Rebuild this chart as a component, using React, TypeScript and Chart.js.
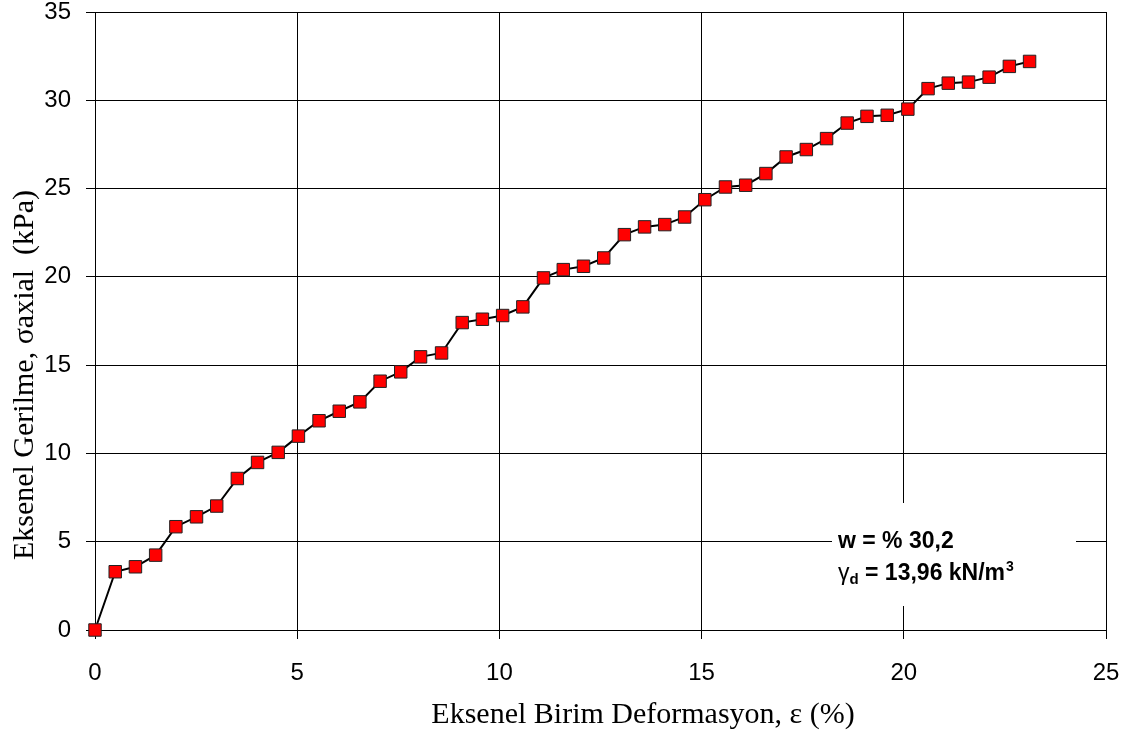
import React, { useEffect, useRef } from "react";
import { Chart, registerables } from "chart.js";

Chart.register(...registerables);

// Axial strain (%) and axial stress (kPa) of the unconfined compression test
const strain = [
  0, 0.5, 1.0, 1.5, 2.0, 2.51, 3.01, 3.52, 4.02, 4.53, 5.03, 5.54, 6.04, 6.55, 7.05, 7.56,
  8.05, 8.57, 9.08, 9.58, 10.08, 10.58, 11.09, 11.58, 12.08, 12.58, 13.09, 13.59, 14.09,
  14.58, 15.08, 15.59, 16.09, 16.59, 17.09, 17.59, 18.09, 18.6, 19.09, 19.59, 20.1, 20.6,
  21.1, 21.6, 22.11, 22.61, 23.11,
];
const stress = [
  0, 3.3, 3.58, 4.24, 5.85, 6.41, 7.02, 8.58, 9.49, 10.06, 10.98, 11.85, 12.39, 12.92,
  14.09, 14.62, 15.47, 15.69, 17.41, 17.6, 17.81, 18.3, 19.94, 20.41, 20.6, 21.07, 22.39,
  22.83, 22.96, 23.39, 24.37, 25.09, 25.19, 25.85, 26.79, 27.21, 27.83, 28.71, 29.09,
  29.15, 29.5, 30.66, 30.97, 31.03, 31.31, 31.92, 32.2,
];

const xTitle = "Eksenel Birim Deformasyon, \u03b5 (%)";
const yTitle = "Eksenel Gerilme, \u03c3axial  (kPa)";
const noteWater = "w = % 30,2";
const noteDensity = " = 13,96 kN/m";

const SANS = "'Liberation Sans', Arial, sans-serif";
const SERIF = "'Liberation Serif', 'Times New Roman', serif";

const decorations = {
  id: "decorations",
  beforeDatasetsDraw(chart: any) {
    const { ctx, chartArea } = chart;
    // white note box over the grid
    ctx.save();
    ctx.fillStyle = "#ffffff";
    ctx.fillRect(chartArea.left + 737, chartArea.top + 491, 244, 103);
    ctx.restore();
  },
  afterDraw(chart: any) {
    const { ctx, chartArea } = chart;
    ctx.save();
    ctx.fillStyle = "#000";
    ctx.textBaseline = "alphabetic";

    // axis titles
    ctx.font = `30px ${SERIF}`;
    ctx.textAlign = "center";
    ctx.fillText(xTitle, 643, 723);

    ctx.save();
    ctx.translate(33, 375);
    ctx.rotate(-Math.PI / 2);
    ctx.fillText(yTitle, 0, 0);
    ctx.restore();

    // test parameters note
    const x0 = chartArea.left + 743;
    const y1 = chartArea.top + 536;
    const y2 = y1 + 32;
    ctx.textAlign = "left";
    ctx.font = `bold 23px ${SANS}`;
    ctx.fillText(noteWater, x0, y1);

    ctx.font = `23px ${SANS}`;
    ctx.fillText("\u03b3", x0, y2);
    let x = x0 + ctx.measureText("\u03b3").width;
    ctx.font = `bold 15px ${SANS}`;
    ctx.fillText("d", x, y2 + 4);
    x += ctx.measureText("d").width;
    ctx.font = `bold 23px ${SANS}`;
    ctx.fillText(noteDensity, x, y2);
    x += ctx.measureText(noteDensity).width + 1;
    ctx.font = `bold 14px ${SANS}`;
    ctx.fillText("3", x, y2 - 9);
    ctx.restore();
  },
};

export default function App() {
  const ref = useRef<HTMLCanvasElement | null>(null);

  useEffect(() => {
    if (!ref.current) return;
    const chart = new Chart(ref.current, {
      type: "scatter",
      data: {
        datasets: [
          {
            data: strain.map((s, i) => ({ x: s, y: stress[i] })),
            showLine: true,
            clip: false,
            borderColor: "#000",
            borderWidth: 2,
            pointStyle: "rect",
            pointRadius: 8.8,
            pointBackgroundColor: "#ff0000",
            pointBorderColor: "#222",
            pointBorderWidth: 1,
          },
        ],
      },
      options: {
        animation: false,
        responsive: false,
        events: [],
        layout: { padding: { top: 12, right: 24, left: 0, bottom: 0 } },
        plugins: { legend: { display: false }, tooltip: { enabled: false } },
        scales: {
          x: {
            type: "linear",
            min: 0,
            max: 25,
            afterFit(scale: any) {
              scale.height = 104;
              scale.paddingLeft = 0;
              scale.paddingRight = 0;
            },
            ticks: {
              stepSize: 5,
              color: "#000",
              padding: 22,
              font: { family: SANS, size: 24, lineHeight: 1 },
            },
            grid: { color: "#000", lineWidth: 1, tickLength: 9 },
            border: { color: "#000", width: 1 },
          },
          y: {
            type: "linear",
            min: 0,
            max: 35,
            afterFit(scale: any) {
              scale.width = 95;
              scale.paddingTop = 0;
              scale.paddingBottom = 0;
            },
            ticks: {
              stepSize: 5,
              color: "#000",
              padding: 15,
              font: { family: SANS, size: 24, lineHeight: 1 },
            },
            grid: { color: "#000", lineWidth: 1, tickLength: 9 },
            border: { color: "#000", width: 1 },
          },
        },
      },
      plugins: [decorations],
    });
    return () => chart.destroy();
  }, []);

  return (
    <div style={{ position: "fixed", left: 0, top: 0, width: 1130, height: 734, background: "#fff" }}>
      <canvas ref={ref} width={1130} height={734} style={{ display: "block" }} />
    </div>
  );
}
